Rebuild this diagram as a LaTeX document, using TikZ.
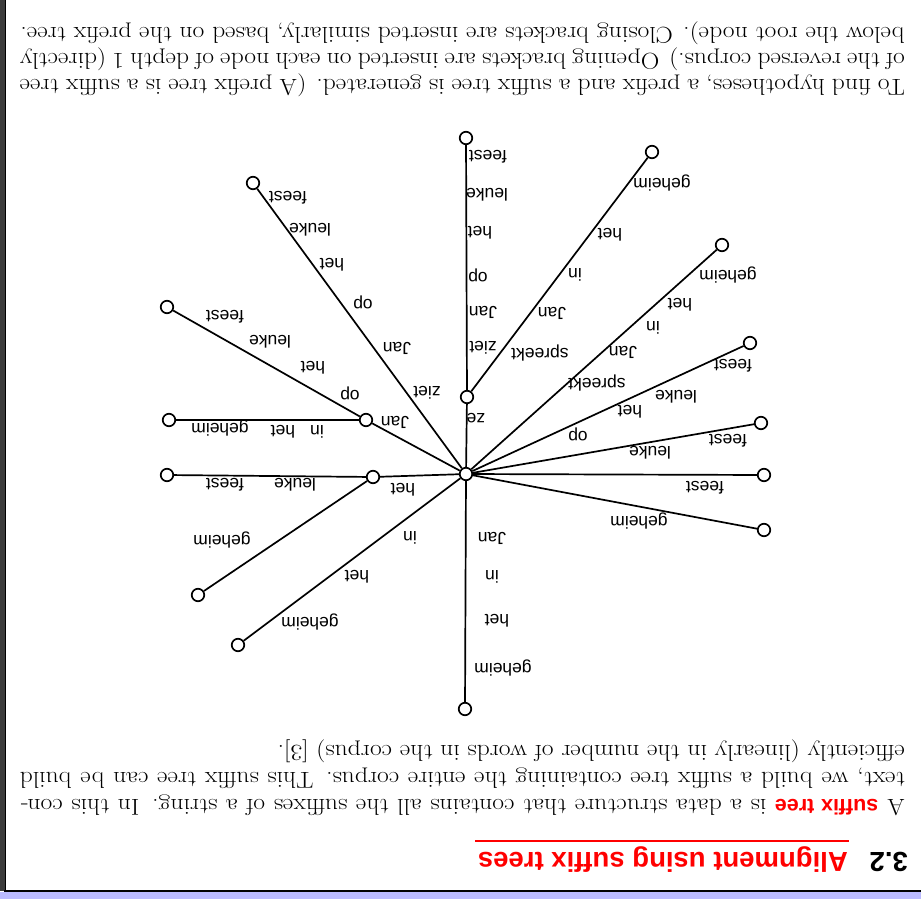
\documentclass[tikz,border=0pt]{standalone}
\usepackage{fontspec}
\newfontfamily\lsans{Liberation Sans}
\newfontfamily\bodyfont{Latin Modern Roman}[FakeStretch=1.115]
\definecolor{lav}{HTML}{BABAFF}
\definecolor{darkbar}{HTML}{3C3C3C}
\begin{document}
\begin{tikzpicture}[x=1pt,y=-1pt]
\tikzset{
 tn/.style={circle, draw, fill=white, line width=1.7pt, minimum size=12.5pt, inner sep=0pt},
 edge/.style={line width=1.7pt},
 lab/.style={rotate=180, font=\lsans\fontsize{17.5}{20}\selectfont, inner sep=0pt},
 body/.style={rotate=180, font=\bodyfont\fontsize{23}{27}\selectfont, inner sep=0pt, anchor=base west},
 ttl/.style={rotate=180, font=\lsans\bfseries\fontsize{27.5}{30}\selectfont, inner sep=0pt, anchor=base west},
}
% frame
\fill[white] (0,0) rectangle (921,899);
\useasboundingbox (0,0) rectangle (921,899);
\fill[darkbar] (0,0) rectangle (5,891);
\draw[line width=1pt] (5.5,0) -- (5.5,891);
\fill[lav] (0,892) rectangle (921,899);
\draw[line width=1.5pt] (4,891) -- (921,891);

% title
\node[ttl] (num) at (908,852) {3.2};
\node[ttl, text=red] (title) at (848,852) {Alignment using suffix trees};
\draw[red, line width=2pt] (475,841) -- (849,841);

% body paragraph 1
\node[body] (p1a) at (905,799.5) {\makebox[885pt][s]{A {\color{red}\lsans\bfseries\fontsize{21.5}{27}\selectfont suffix tree} is a data structure that contains all the suffixes of a string. In this con-}};
\node[body] (p1b) at (905,772.5) {\makebox[885pt][s]{text, we build a suffix tree containing the entire corpus. This suffix tree can be build}};
\node[body] (p1c) at (905,745.5) {efficiently (linearly in the number of words in the corpus) [3].};

% body paragraph 2
\node[body] (p2a) at (905,79.5) {\makebox[885pt][s]{To find hypotheses, a prefix and a suffix tree is generated. (A prefix tree is a suffix tree}};
\node[body] (p2b) at (905,53.5) {\makebox[885pt][s]{of the reversed corpus.) Opening brackets are inserted on each node of depth 1 (directly}};
\node[body] (p2c) at (905,27.5) {below the root node). Closing brackets are inserted similarly, based on the prefix tree.};

% tree nodes
\node[tn] (root) at (466,474) {};
\node[tn] (d1) at (465,709) {};
\node[tn] (r1) at (764,530) {};
\node[tn] (r2) at (764,475) {};
\node[tn] (r3) at (761,423) {};
\node[tn] (r4) at (750,343) {};
\node[tn] (r5) at (722,245) {};
\node[tn] (ze) at (467,397) {};
\node[tn] (zeA) at (652,152) {};
\node[tn] (zeTop) at (466,138) {};
\node[tn] (tl) at (253,183) {};
\node[tn] (jan) at (366,420) {};
\node[tn] (janA) at (167,307) {};
\node[tn] (janB) at (169,420) {};
\node[tn] (het) at (373,477) {};
\node[tn] (hetA) at (167,475) {};
\node[tn] (hetB) at (198,595) {};
\node[tn] (l1) at (238,645) {};

% edges
\foreach \a/\b in {root/d1, root/r1, root/r2, root/r3, root/r4, root/r5, root/ze, ze/zeA, ze/zeTop, root/tl, root/jan, jan/janA, jan/janB, root/het, het/hetA, het/hetB, root/l1}
  \draw[edge] (\a) -- (\b);

% labels
\node[lab] at (492,538) {Jan};
\node[lab] at (492,577) {in};
\node[lab] at (497,621) {het};
\node[lab] at (503,668) {geheim};

\node[lab] at (639,521) {geheim};
\node[lab] at (705,488) {feest};
\node[lab] at (650,453) {leuke};
\node[lab] at (728,441) {feest};

\node[lab] at (578,434) {op};
\node[lab] at (630,412) {het};
\node[lab] at (676,397) {leuke};
\node[lab] at (733,366) {feest};

\node[lab] at (597,383) {spreekt};
\node[lab] at (623,352) {Jan};
\node[lab] at (653,328) {in};
\node[lab] at (680,305) {het};
\node[lab] at (728,275) {geheim};

\node[lab] at (540,353) {spreekt};
\node[lab] at (552,313) {Jan};
\node[lab] at (575,275) {in};
\node[lab] at (610,235) {het};
\node[lab] at (662,183) {geheim};

\node[lab] at (476,418) {ze};
\node[lab] at (483,348) {ziet};
\node[lab] at (483,312) {Jan};
\node[lab] at (478,275) {op};
\node[lab] at (480,233) {het};
\node[lab] at (487,195) {leuke};
\node[lab] at (488,157) {feest};

\node[lab] at (427,393) {ziet};
\node[lab] at (397,348) {Jan};
\node[lab] at (363,302) {op};
\node[lab] at (332,265) {het};
\node[lab] at (310,230) {leuke};
\node[lab] at (288,198) {feest};

\node[lab] at (395,422) {Jan};
\node[lab] at (350,393) {op};
\node[lab] at (313,368) {het};
\node[lab] at (270,342) {leuke};
\node[lab] at (225,317) {feest};

\node[lab] at (317,432) {in};
\node[lab] at (283,432) {het};
\node[lab] at (220,428) {geheim};

\node[lab] at (403,490) {het};
\node[lab] at (295,485) {leuke};
\node[lab] at (225,485) {feest};
\node[lab] at (222,540) {geheim};

\node[lab] at (410,538) {in};
\node[lab] at (357,577) {het};
\node[lab] at (310,622) {geheim};
\end{tikzpicture}
\end{document}
